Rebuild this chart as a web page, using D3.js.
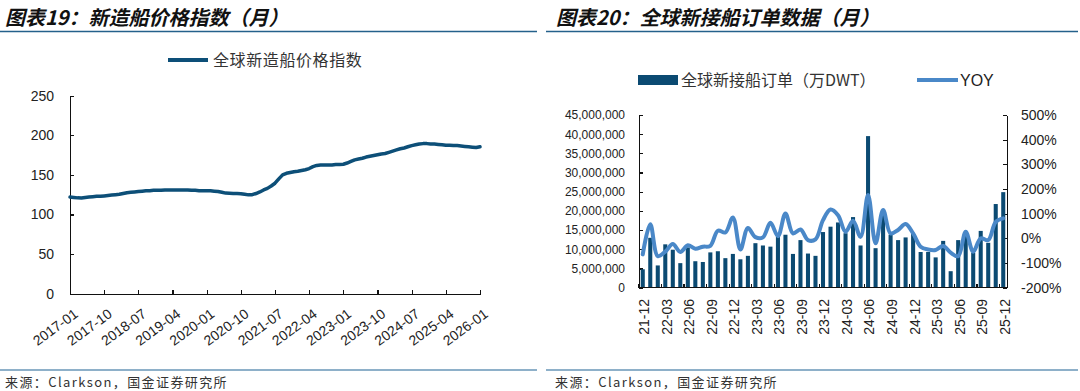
<!DOCTYPE html>
<html lang="zh">
<head>
<meta charset="utf-8">
<title>新造船价格指数 / 全球新接船订单</title>
<style>
  body { margin: 0; background: #fff; }
  svg { display: block; }
  .num { font-family: "Liberation Sans", Arial, sans-serif; fill: #222; }
  .cjk { font-family: "Noto Sans CJK SC", sans-serif; }
  .axis path, .axis line { stroke: #111; stroke-width: 1.2px; shape-rendering: crispEdges; }
  .axis text { font-family: "Liberation Sans", Arial, sans-serif; fill: #222; }
</style>
<script src="https://d3js.org/d3.v7.min.js"></script>
</head>
<body>
<div id="chart"></div>
<script>
// ---- left chart: newbuilding price index, monthly 2017-01 .. 2026-01
const priceStart = [2017, 1];
const priceIndex = [
  122, 121.5, 121, 120.8, 121.5, 122, 122.5, 123, 123, 123.5, 124, 124.5,
  125, 125.5, 126.5, 127.5, 128, 128.5, 129, 129.5, 130, 130, 130.5, 130.5,
  130.5, 131, 131, 131, 131, 131, 131, 131, 130.5, 130.5, 130, 130,
  130, 130, 129.5, 129, 128, 127, 126.8, 126.5, 126.5, 126.3, 125.5, 124.8,
  125, 126.5, 128.5, 131, 133, 136, 139.5, 145, 150, 152, 153, 154,
  154.5, 155.5, 156.5, 158, 160.5, 162, 162.5, 162.5, 162.5, 162.5, 163, 163,
  163.5, 165, 167, 169, 170, 171, 172.5, 173.5, 174.5, 175.5, 176.5, 177,
  178.5, 180, 181.5, 183, 184, 185.5, 187, 188, 189, 189.5, 189.5, 189,
  189, 188.5, 188, 187.5, 187.5, 187, 187, 186.5, 186, 185.5, 185, 184.5,
  185.5
];
const priceTicks = ["2017-01","2017-10","2018-07","2019-04","2020-01","2020-10","2021-07",
                    "2022-04","2023-01","2023-10","2024-07","2025-04","2026-01"];
const priceYTicks = [0, 50, 100, 150, 200, 250];

// ---- right chart: new orders (DWT) and YOY, monthly 2021-12 .. 2025-12
const orderStart = [2021, 12];
const orders = [
  4800000, 13000000, 5800000, 11300000, 9900000, 6400000, 10500000, 6900000, 6700000, 9200000,
  9500000, 7700000, 8800000, 7400000, 8300000, 11600000, 11000000, 10700000, 14200000, 13800000,
  8800000, 12400000, 8900000, 8300000, 14500000, 15900000, 17000000, 14200000, 18400000, 11000000,
  39500000, 10300000, 19800000, 13800000, 12400000, 13100000, 14000000, 9300000, 9300000, 7900000,
  12200000, 4300000, 12400000, 13500000, 9100000, 14800000, 11700000, 21800000, 24900000
];
const yoy = [
  -65, 57, -72, -54, -23, -55, -28, -42, -34, -30,
  31, 24, 85, -45, 42, 5, 4, 63, 9, 101,
  20, 36, -7, -4, 74, 117, 94, 27, 71, 6,
  176, -20, 115, 20, 34, 58, 20, -34, -45, -47,
  -31, -58, -72, 27, -54, 0, -7, 67, 81
];
const orderTicks = ["21-12","22-03","22-06","22-09","22-12","23-03","23-06","23-09","23-12",
                    "24-03","24-06","24-09","24-12","25-03","25-06","25-09","25-12"];
const orderYTicks = [0, 5e6, 10e6, 15e6, 20e6, 25e6, 30e6, 35e6, 40e6, 45e6];
const yoyTicks = [-200, -100, 0, 100, 200, 300, 400, 500];

function monthLabels(start, n, short) {
  const out = [];
  let [yy, mm] = start;
  for (let i = 0; i < n; i++) {
    const m = String(mm).padStart(2, "0");
    out.push(short ? String(yy).slice(2) + "-" + m : yy + "-" + m);
    mm++; if (mm > 12) { mm = 1; yy++; }
  }
  return out;
}
const priceMonths = monthLabels(priceStart, priceIndex.length, false);
const orderMonths = monthLabels(orderStart, orders.length, true);

const svg = d3.select("#chart").append("svg")
    .attr("width", 1080).attr("height", 391);

// ---- headers and footers
function frame(x0, x1, title, tx, fx) {
  svg.append("text").attr("class", "cjk")
      .attr("x", tx).attr("y", 25)
      .attr("font-size", "20px").attr("font-weight", "bold").attr("font-style", "italic")
      .attr("fill", "#111").text(title);
  svg.append("line").attr("x1", x0).attr("x2", x1).attr("y1", 31.5).attr("y2", 31.5)
      .attr("stroke", "#24618b").attr("stroke-width", 1.5);
  svg.append("line").attr("x1", x0).attr("x2", x1).attr("y1", 370).attr("y2", 370)
      .attr("stroke", "#8eb0c9").attr("stroke-width", 2);
  svg.append("text").attr("class", "cjk")
      .attr("x", fx).attr("y", 387)
      .attr("font-size", "13px").attr("letter-spacing", "1.4px")
      .attr("fill", "#333").text("来源：Clarkson，国金证券研究所");
}
frame(0, 537, "图表19：新造船价格指数（月）", 5, 5);
frame(546, 1078, "图表20：全球新接船订单数据（月）", 556, 555);

// ================= left chart =================
const x1 = d3.scaleLinear().domain([0, priceIndex.length - 1]).range([70, 480]);
const y1 = d3.scaleLinear().domain([0, 250]).range([293.7, 95.7]);

svg.append("g").attr("class", "axis")
    .attr("transform", "translate(70,0)")
    .call(d3.axisLeft(y1).tickValues(priceYTicks).tickSizeInner(-4).tickSizeOuter(0).tickPadding(16))
    .selectAll("text").attr("font-size", "14px");

const bx1 = svg.append("g").attr("class", "axis")
    .attr("transform", "translate(0,293.7)")
    .call(d3.axisBottom(x1)
        .tickValues(priceTicks.map(t => priceMonths.indexOf(t)))
        .tickSizeInner(-4).tickSizeOuter(0).tickFormat(""));

svg.append("g").selectAll("text")
    .data(priceTicks)
    .join("text")
    .attr("class", "num")
    .attr("font-size", "14px")
    .attr("text-anchor", "end")
    .attr("transform", d => `translate(${x1(priceMonths.indexOf(d)) + 9},316) rotate(-36)`)
    .text(d => d);

svg.append("path")
    .datum(priceIndex)
    .attr("fill", "none")
    .attr("stroke", "#0d4f78")
    .attr("stroke-width", 3.5)
    .attr("stroke-linejoin", "round")
    .attr("stroke-linecap", "round")
    .attr("d", d3.line().x((d, i) => x1(i)).y(d => y1(d)));

// legend
svg.append("line").attr("x1", 168).attr("x2", 208).attr("y1", 60).attr("y2", 60)
    .attr("stroke", "#0d4f78").attr("stroke-width", 4);
svg.append("text").attr("class", "cjk")
    .attr("x", 213).attr("y", 60).attr("dy", "0.35em")
    .attr("font-size", "16px").attr("letter-spacing", "0.6px").attr("fill", "#333")
    .text("全球新造船价格指数");

// ================= right chart =================
const xb = d3.scaleBand().domain(orderMonths).range([639, 1007])
    .paddingInner(0.46).paddingOuter(0.23);
const yL = d3.scaleLinear().domain([0, 45e6]).range([287.7, 115]);
const yR = d3.scaleLinear().domain([-200, 500]).range([287.7, 115]);

svg.append("g").attr("class", "axis")
    .attr("transform", "translate(639,0)")
    .call(d3.axisLeft(yL).tickValues(orderYTicks).tickSizeInner(-4).tickSizeOuter(0)
        .tickPadding(14).tickFormat(d3.format(",")))
    .selectAll("text").attr("font-size", "12px");

svg.append("g").attr("class", "axis")
    .attr("transform", "translate(1007,0)")
    .call(d3.axisRight(yR).tickValues(yoyTicks).tickSizeInner(-4).tickSizeOuter(0)
        .tickPadding(14).tickFormat(d => d + "%"))
    .selectAll("text").attr("font-size", "14px");

// bars
svg.append("g").selectAll("rect")
    .data(orders)
    .join("rect")
    .attr("x", (d, i) => xb(orderMonths[i]))
    .attr("width", xb.bandwidth())
    .attr("y", d => yL(d))
    .attr("height", d => yL(0) - yL(d))
    .attr("fill", "#0b4a72");

// bottom axis of the right chart: category boundaries every 3 months
const step = xb.step();
const bTicks = d3.range(0, orders.length, 3).map(k => xb.range()[0] + k * step);
const bAxis = svg.append("g").attr("class", "axis");
bAxis.selectAll("line.t").data(bTicks).join("line")
    .attr("x1", d => d).attr("x2", d => d)
    .attr("y1", yL(0)).attr("y2", yL(0) - 4);
bAxis.append("line")
    .attr("x1", 639).attr("x2", 1007).attr("y1", yL(0)).attr("y2", yL(0));

svg.append("g").selectAll("text")
    .data(orderTicks)
    .join("text")
    .attr("class", "num")
    .attr("font-size", "14px")
    .attr("text-anchor", "end")
    .attr("dy", "0.35em")
    .attr("transform", d => `translate(${xb(d) + xb.bandwidth() / 2 + 1.5},299) rotate(-90)`)
    .text(d => d);

// YOY line
svg.append("path")
    .datum(yoy)
    .attr("fill", "none")
    .attr("stroke", "#4a88c8")
    .attr("stroke-width", 4)
    .attr("stroke-linejoin", "round")
    .attr("stroke-linecap", "round")
    .attr("d", d3.line()
        .x((d, i) => xb(orderMonths[i]) + xb.bandwidth() / 2)
        .y(d => yR(d))
        .curve(d3.curveCatmullRom.alpha(0.5)));

// legend
svg.append("rect").attr("x", 638).attr("y", 75).attr("width", 40).attr("height", 10)
    .attr("fill", "#0b4a72");
svg.append("text").attr("class", "cjk")
    .attr("x", 681).attr("y", 80).attr("dy", "0.35em")
    .attr("font-size", "16px").attr("fill", "#333")
    .text("全球新接船订单（万DWT）");
svg.append("line").attr("x1", 917).attr("x2", 958).attr("y1", 80).attr("y2", 80)
    .attr("stroke", "#4a88c8").attr("stroke-width", 4);
svg.append("text").attr("class", "num")
    .attr("x", 960).attr("y", 80).attr("dy", "0.35em")
    .attr("font-size", "16px").attr("fill", "#333")
    .text("YOY");
</script>
</body>
</html>
